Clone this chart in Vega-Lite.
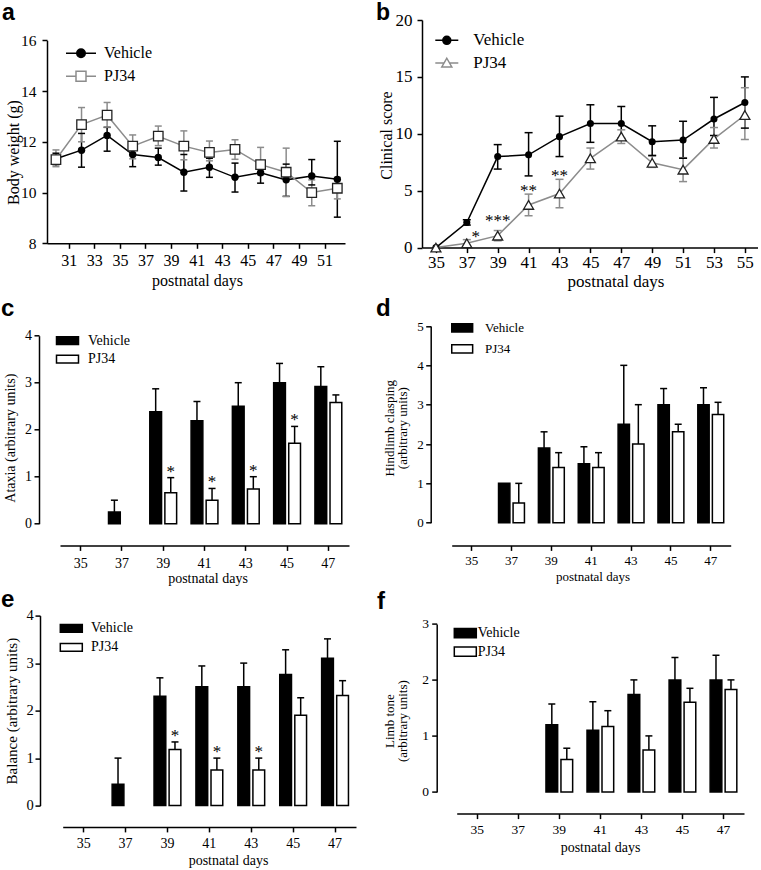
{
"$schema": "https://vega.github.io/schema/vega-lite/v6.json",
"background": "white",
"padding": {"left": 1, "top": 1, "right": 0, "bottom": 0},
"columns": 2,
"bounds": "flush",
"align": "each",
"spacing": {"row": 69.3, "column": 65},
"resolve": {"scale": {"color": "independent", "fill": "independent", "stroke": "independent", "shape": "independent", "size": "independent", "xOffset": "independent"}},
"config": {
  "view": {"stroke": null},
  "font": "Liberation Serif",
  "axis": {"grid": false, "domainColor": "#000", "domainWidth": 1.5, "tickColor": "#000", "tickWidth": 1.5, "tickSize": 5, "labelColor": "#000", "titleColor": "#000", "labelFont": "Liberation Serif", "titleFont": "Liberation Serif", "titleFontWeight": "normal", "labelFlush": false, "labelOverlap": false},
  "legend": {"labelFont": "Liberation Serif", "labelColor": "#000", "padding": 0},
  "title": {"font": "Liberation Sans", "fontSize": 24, "fontWeight": "bold", "anchor": "start", "frame": "group", "offset": 0, "color": "#000", "baseline": "alphabetic"}
},
"datasets": {
  "a": [
    {"day": 30, "group": "Vehicle", "mean": 11.33, "lo": 11.1, "hi": 11.55},
    {"day": 32, "group": "Vehicle", "mean": 11.67, "lo": 11.0, "hi": 12.33},
    {"day": 34, "group": "Vehicle", "mean": 12.25, "lo": 11.63, "hi": 12.57},
    {"day": 36, "group": "Vehicle", "mean": 11.5, "lo": 11.02, "hi": 11.8},
    {"day": 38, "group": "Vehicle", "mean": 11.38, "lo": 11.08, "hi": 11.75},
    {"day": 40, "group": "Vehicle", "mean": 10.8, "lo": 10.06, "hi": 11.5},
    {"day": 42, "group": "Vehicle", "mean": 11.0, "lo": 10.6, "hi": 11.35},
    {"day": 44, "group": "Vehicle", "mean": 10.6, "lo": 10.02, "hi": 11.16},
    {"day": 46, "group": "Vehicle", "mean": 10.78, "lo": 10.37, "hi": 11.0},
    {"day": 48, "group": "Vehicle", "mean": 10.5, "lo": 9.85, "hi": 11.12},
    {"day": 50, "group": "Vehicle", "mean": 10.65, "lo": 10.3, "hi": 11.3},
    {"day": 52, "group": "Vehicle", "mean": 10.52, "lo": 9.03, "hi": 12.02},
    {"day": 30, "group": "PJ34", "mean": 11.3, "lo": 11.02, "hi": 11.68},
    {"day": 32, "group": "PJ34", "mean": 12.68, "lo": 12.0, "hi": 13.35},
    {"day": 34, "group": "PJ34", "mean": 13.05, "lo": 12.58, "hi": 13.55},
    {"day": 36, "group": "PJ34", "mean": 11.83, "lo": 11.33, "hi": 12.27},
    {"day": 38, "group": "PJ34", "mean": 12.22, "lo": 11.85, "hi": 12.62},
    {"day": 40, "group": "PJ34", "mean": 11.83, "lo": 11.29, "hi": 12.43},
    {"day": 42, "group": "PJ34", "mean": 11.58, "lo": 11.25, "hi": 12.03},
    {"day": 44, "group": "PJ34", "mean": 11.7, "lo": 11.31, "hi": 12.08},
    {"day": 46, "group": "PJ34", "mean": 11.1, "lo": 10.7, "hi": 11.78},
    {"day": 48, "group": "PJ34", "mean": 10.8, "lo": 9.85, "hi": 11.75},
    {"day": 50, "group": "PJ34", "mean": 10.0, "lo": 9.48, "hi": 10.5},
    {"day": 52, "group": "PJ34", "mean": 10.17, "lo": 9.75, "hi": 10.6}
  ],
  "b": [
    {"day": 35, "group": "Vehicle", "mean": 0},
    {"day": 37, "group": "Vehicle", "mean": 2.2, "lo": 1.98, "hi": 2.45},
    {"day": 39, "group": "Vehicle", "mean": 8.0, "lo": 6.9, "hi": 9.05},
    {"day": 41, "group": "Vehicle", "mean": 8.15, "lo": 6.3, "hi": 10.1},
    {"day": 43, "group": "Vehicle", "mean": 9.75, "lo": 8.0, "hi": 11.55},
    {"day": 45, "group": "Vehicle", "mean": 10.9, "lo": 9.25, "hi": 12.55},
    {"day": 47, "group": "Vehicle", "mean": 10.9, "lo": 9.6, "hi": 12.4},
    {"day": 49, "group": "Vehicle", "mean": 9.3, "lo": 8.1, "hi": 10.7},
    {"day": 51, "group": "Vehicle", "mean": 9.45, "lo": 7.85, "hi": 11.1},
    {"day": 53, "group": "Vehicle", "mean": 11.3, "lo": 9.85, "hi": 13.2},
    {"day": 55, "group": "Vehicle", "mean": 12.75, "lo": 10.5, "hi": 15.0},
    {"day": 35, "group": "PJ34", "mean": 0},
    {"day": 37, "group": "PJ34", "mean": 0.38, "lo": 0.1, "hi": 0.7, "sig": "*"},
    {"day": 39, "group": "PJ34", "mean": 1.05, "lo": 0.6, "hi": 1.5, "sig": "***"},
    {"day": 41, "group": "PJ34", "mean": 3.75, "lo": 2.8, "hi": 4.7, "sig": "**"},
    {"day": 43, "group": "PJ34", "mean": 4.75, "lo": 3.5, "hi": 6.0, "sig": "**"},
    {"day": 45, "group": "PJ34", "mean": 7.85, "lo": 6.9, "hi": 8.75},
    {"day": 47, "group": "PJ34", "mean": 9.75, "lo": 9.15, "hi": 10.35},
    {"day": 49, "group": "PJ34", "mean": 7.45, "lo": 7.05, "hi": 8.05},
    {"day": 51, "group": "PJ34", "mean": 6.85, "lo": 5.8, "hi": 7.9},
    {"day": 53, "group": "PJ34", "mean": 9.55, "lo": 8.75, "hi": 10.55},
    {"day": 55, "group": "PJ34", "mean": 11.65, "lo": 9.5, "hi": 14.05}
  ],
  "c": [
    {"day": 37, "group": "Vehicle", "mean": 0.25, "hi": 0.5},
    {"day": 39, "group": "Vehicle", "mean": 2.38, "hi": 2.87},
    {"day": 39, "group": "PJ34", "mean": 0.66, "hi": 0.98, "sig": "*"},
    {"day": 41, "group": "Vehicle", "mean": 2.19, "hi": 2.6},
    {"day": 41, "group": "PJ34", "mean": 0.5, "hi": 0.75, "sig": "*"},
    {"day": 43, "group": "Vehicle", "mean": 2.5, "hi": 3.0},
    {"day": 43, "group": "PJ34", "mean": 0.74, "hi": 1.0, "sig": "*"},
    {"day": 45, "group": "Vehicle", "mean": 3.0, "hi": 3.41},
    {"day": 45, "group": "PJ34", "mean": 1.71, "hi": 2.07, "sig": "*"},
    {"day": 47, "group": "Vehicle", "mean": 2.92, "hi": 3.34},
    {"day": 47, "group": "PJ34", "mean": 2.58, "hi": 2.74}
  ],
  "d": [
    {"day": 37, "group": "Vehicle", "mean": 1.0},
    {"day": 37, "group": "PJ34", "mean": 0.5, "hi": 1.0},
    {"day": 39, "group": "Vehicle", "mean": 1.9, "hi": 2.31},
    {"day": 39, "group": "PJ34", "mean": 1.4, "hi": 1.78},
    {"day": 41, "group": "Vehicle", "mean": 1.5, "hi": 1.93},
    {"day": 41, "group": "PJ34", "mean": 1.4, "hi": 1.78},
    {"day": 43, "group": "Vehicle", "mean": 2.5, "hi": 4.0},
    {"day": 43, "group": "PJ34", "mean": 2.0, "hi": 3.0},
    {"day": 45, "group": "Vehicle", "mean": 3.0, "hi": 3.41},
    {"day": 45, "group": "PJ34", "mean": 2.31, "hi": 2.5},
    {"day": 47, "group": "Vehicle", "mean": 3.0, "hi": 3.43},
    {"day": 47, "group": "PJ34", "mean": 2.75, "hi": 3.06}
  ],
  "e": [
    {"day": 37, "group": "Vehicle", "mean": 0.45, "hi": 1.0},
    {"day": 39, "group": "Vehicle", "mean": 2.3, "hi": 2.69},
    {"day": 39, "group": "PJ34", "mean": 1.18, "hi": 1.34, "sig": "*"},
    {"day": 41, "group": "Vehicle", "mean": 2.5, "hi": 2.94},
    {"day": 41, "group": "PJ34", "mean": 0.75, "hi": 1.0, "sig": "*"},
    {"day": 43, "group": "Vehicle", "mean": 2.5, "hi": 3.0},
    {"day": 43, "group": "PJ34", "mean": 0.75, "hi": 1.0, "sig": "*"},
    {"day": 45, "group": "Vehicle", "mean": 2.76, "hi": 3.28},
    {"day": 45, "group": "PJ34", "mean": 1.9, "hi": 2.27},
    {"day": 47, "group": "Vehicle", "mean": 3.1, "hi": 3.51},
    {"day": 47, "group": "PJ34", "mean": 2.32, "hi": 2.63}
  ],
  "f": [
    {"day": 39, "group": "Vehicle", "mean": 1.2, "hi": 1.57},
    {"day": 39, "group": "PJ34", "mean": 0.58, "hi": 0.78},
    {"day": 41, "group": "Vehicle", "mean": 1.1, "hi": 1.61},
    {"day": 41, "group": "PJ34", "mean": 1.17, "hi": 1.45},
    {"day": 43, "group": "Vehicle", "mean": 1.74, "hi": 2.0},
    {"day": 43, "group": "PJ34", "mean": 0.75, "hi": 1.0},
    {"day": 45, "group": "Vehicle", "mean": 2.0, "hi": 2.4},
    {"day": 45, "group": "PJ34", "mean": 1.6, "hi": 1.85},
    {"day": 47, "group": "Vehicle", "mean": 2.0, "hi": 2.44},
    {"day": 47, "group": "PJ34", "mean": 1.83, "hi": 2.0}
  ]
},
"concat": [
  {
    "width": 310, "height": 223.3,
    "title": {"text": "a", "dx": -45, "dy": 9, "fontSize": 23},
    "data": {"name": "a"},
    "encoding": {
      "x": {"field": "day", "type": "quantitative",
        "scale": {"domain": [29.3, 52.6], "range": [0, 298], "nice": false, "zero": false},
        "axis": {"values": [31, 33, 35, 37, 39, 41, 43, 45, 47, 49, 51], "title": "postnatal days", "labelFontSize": 16, "titleFontSize": 16, "labelPadding": 4, "titleX": 150, "titleY": 37, "titleBaseline": "middle", "titleAlign": "center"}}
    },
    "layer": [
      {"mark": {"type": "point", "filled": true, "opacity": 1},
       "transform": [{"filter": "false"}],
       "encoding": {
         "y": {"field": "mean", "type": "quantitative", "title": "Body weight (g)"},
         "fill": {"field": "group", "type": "nominal", "scale": {"domain": ["Vehicle", "PJ34"], "range": ["#000000", "#ffffff"]},
           "legend": {"orient": "none", "legendX": 26, "legendY": 25.3, "title": null, "labelFont": "Liberation Serif", "labelFontSize": 16, "symbolSize": 100, "rowPadding": 7, "labelOffset": 15, "symbolStrokeWidth": 1.5}},
         "stroke": {"field": "group", "type": "nominal", "scale": {"domain": ["Vehicle", "PJ34"], "range": ["#000000", "#8c8c8c"]}},
         "shape": {"field": "group", "type": "nominal", "scale": {"domain": ["Vehicle", "PJ34"], "range": ["M-3,0H3M-0.85,0A0.85,0.85 0 1,0 0.85,0A0.85,0.85 0 1,0 -0.85,0Z", "M-3,0H-1M1,0H3M-1,-1H1V1H-1Z"]}}
       }},
      {"mark": {"type": "rule", "strokeWidth": 1.5},
       "encoding": {
         "y": {"field": "lo", "type": "quantitative", "scale": {"domain": [8, 16], "range": [223.3, 20.3], "nice": false, "zero": false},
           "axis": {"values": [8, 10, 12, 14, 16], "title": "Body weight (g)", "labelFontSize": 15.5, "titleFontSize": 16, "labelPadding": 6, "titleX": -34, "titleY": 132, "titleAngle": -90, "titleBaseline": "middle", "titleAlign": "center"}},
         "y2": {"field": "hi"},
         "color": {"field": "group", "type": "nominal", "sort": ["Vehicle", "PJ34"], "scale": {"range": ["#000000", "#8c8c8c"]}, "legend": null}}},
      {"mark": {"type": "tick", "orient": "horizontal", "size": 7, "thickness": 1.5, "opacity": 1},
       "encoding": {"y": {"field": "hi", "type": "quantitative", "title": "Body weight (g)"},
         "color": {"field": "group", "type": "nominal", "sort": ["Vehicle", "PJ34"], "scale": {"range": ["#000000", "#8c8c8c"]}, "legend": null}}},
      {"mark": {"type": "tick", "orient": "horizontal", "size": 7, "thickness": 1.5, "opacity": 1},
       "encoding": {"y": {"field": "lo", "type": "quantitative", "title": "Body weight (g)"},
         "color": {"field": "group", "type": "nominal", "sort": ["Vehicle", "PJ34"], "scale": {"range": ["#000000", "#8c8c8c"]}, "legend": null}}},
      {"mark": {"type": "line", "strokeWidth": 1.5},
       "encoding": {"y": {"field": "mean", "type": "quantitative", "title": "Body weight (g)"},
         "color": {"field": "group", "type": "nominal", "sort": ["Vehicle", "PJ34"], "scale": {"range": ["#000000", "#8c8c8c"]}, "legend": null}}},
      {"mark": {"type": "point", "shape": "circle", "filled": true, "color": "#000000", "size": 55, "opacity": 1},
       "transform": [{"filter": "datum.group === 'Vehicle'"}],
       "encoding": {"y": {"field": "mean", "type": "quantitative", "title": "Body weight (g)"}}},
      {"mark": {"type": "point", "shape": "square", "filled": true, "fill": "#ffffff", "stroke": "#222222", "strokeWidth": 1.3, "size": 90, "opacity": 1},
       "transform": [{"filter": "datum.group === 'PJ34'"}],
       "encoding": {"y": {"field": "mean", "type": "quantitative", "title": "Body weight (g)"}}}
    ]
  },
  {
    "width": 336, "height": 227.6,
    "title": {"text": "b", "dx": -46, "dy": 17.5, "fontSize": 23},
    "data": {"name": "b"},
    "encoding": {
      "x": {"field": "day", "type": "quantitative",
        "scale": {"domain": [34.1, 55.85], "range": [0, 336], "nice": false, "zero": false},
        "axis": {"values": [35, 37, 39, 41, 43, 45, 47, 49, 51, 53, 55], "title": "postnatal days", "labelFontSize": 17, "titleFontSize": 17, "labelPadding": 1.5, "titleX": 193.5, "titleY": 33.7, "titleBaseline": "middle", "titleAlign": "center"}}
    },
    "layer": [
      {"mark": {"type": "point", "filled": true, "opacity": 1},
       "transform": [{"filter": "false"}],
       "encoding": {
         "y": {"field": "mean", "type": "quantitative", "title": "Clinical score"},
         "fill": {"field": "group", "type": "nominal", "scale": {"domain": ["Vehicle", "PJ34"], "range": ["#000000", "#ffffff"]},
           "legend": {"orient": "none", "legendX": 16.3, "legendY": 11.8, "title": null, "labelFont": "Liberation Serif", "labelFontSize": 17, "symbolSize": 100, "rowPadding": 4.7, "labelOffset": 18, "symbolStrokeWidth": 1.5}},
         "stroke": {"field": "group", "type": "nominal", "scale": {"domain": ["Vehicle", "PJ34"], "range": ["#000000", "#8c8c8c"]}},
         "shape": {"field": "group", "type": "nominal", "scale": {"domain": ["Vehicle", "PJ34"], "range": ["M-2.3,0H2.3M-0.8,0A0.8,0.8 0 1,0 0.8,0A0.8,0.8 0 1,0 -0.8,0Z", "M-2.3,0H-0.55M0.55,0H2.3M0,-0.95L1,0.8H-1Z"]}}
       }},
      {"mark": {"type": "rule", "strokeWidth": 1.5},
       "encoding": {
         "y": {"field": "lo", "type": "quantitative", "scale": {"domain": [0, 20], "range": [227.6, 0], "nice": false, "zero": false},
           "axis": {"values": [0, 5, 10, 15, 20], "title": "Clinical score", "labelFontSize": 17, "titleFontSize": 16, "labelPadding": 5, "titleX": -36, "titleY": 115, "titleAngle": -90, "titleBaseline": "middle", "titleAlign": "center"}},
         "y2": {"field": "hi"},
         "color": {"field": "group", "type": "nominal", "sort": ["Vehicle", "PJ34"], "scale": {"range": ["#000000", "#8c8c8c"]}, "legend": null}}},
      {"mark": {"type": "tick", "orient": "horizontal", "size": 8, "thickness": 1.5, "opacity": 1},
       "encoding": {"y": {"field": "hi", "type": "quantitative", "title": "Clinical score"},
         "color": {"field": "group", "type": "nominal", "sort": ["Vehicle", "PJ34"], "scale": {"range": ["#000000", "#8c8c8c"]}, "legend": null}}},
      {"mark": {"type": "tick", "orient": "horizontal", "size": 8, "thickness": 1.5, "opacity": 1},
       "encoding": {"y": {"field": "lo", "type": "quantitative", "title": "Clinical score"},
         "color": {"field": "group", "type": "nominal", "sort": ["Vehicle", "PJ34"], "scale": {"range": ["#000000", "#8c8c8c"]}, "legend": null}}},
      {"mark": {"type": "line", "strokeWidth": 1.5},
       "encoding": {"y": {"field": "mean", "type": "quantitative", "title": "Clinical score"},
         "color": {"field": "group", "type": "nominal", "sort": ["Vehicle", "PJ34"], "scale": {"range": ["#000000", "#8c8c8c"]}, "legend": null}}},
      {"mark": {"type": "point", "shape": "circle", "filled": true, "color": "#000000", "size": 50, "opacity": 1},
       "transform": [{"filter": "datum.group === 'Vehicle'"}],
       "encoding": {"y": {"field": "mean", "type": "quantitative", "title": "Clinical score"}}},
      {"mark": {"type": "point", "shape": "triangle-up", "filled": true, "fill": "#ffffff", "stroke": "#222222", "strokeWidth": 1.3, "size": 100, "opacity": 1},
       "transform": [{"filter": "datum.group === 'PJ34'"}],
       "encoding": {"y": {"field": "mean", "type": "quantitative", "title": "Clinical score"}}},
      {"mark": {"type": "text", "font": "Liberation Serif", "fontSize": 17, "baseline": "alphabetic", "dy": 2, "color": "#000000"},
       "transform": [{"filter": "datum.sig && datum.day != 37 && datum.day != 39"}],
       "encoding": {"y": {"field": "hi", "type": "quantitative", "title": "Clinical score"}, "text": {"field": "sig"}}},
      {"mark": {"type": "text", "font": "Liberation Serif", "fontSize": 17, "baseline": "alphabetic", "dy": -5, "color": "#000000"},
       "transform": [{"filter": "datum.sig && datum.day == 39"}],
       "encoding": {"y": {"field": "hi", "type": "quantitative", "title": "Clinical score"}, "text": {"field": "sig"}}},
      {"mark": {"type": "text", "font": "Liberation Serif", "fontSize": 17, "baseline": "alphabetic", "dy": 2, "dx": 9, "color": "#000000"},
       "transform": [{"filter": "datum.sig && datum.day == 37"}],
       "encoding": {"y": {"field": "hi", "type": "quantitative", "title": "Clinical score"}, "text": {"field": "sig"}}}
    ]
  },
  {
    "width": 310, "height": 228.1,
    "title": {"text": "c", "dx": -46, "dy": 8},
    "data": {"name": "c"},
    "encoding": {
      "x": {"field": "day", "type": "ordinal", "scale": {"domain": [35, 37, 39, 41, 43, 45, 47], "range": [13, 302], "paddingInner": 0.35, "paddingOuter": 0.175},
        "axis": {"title": "postnatal days", "labelAngle": 0, "labelFontSize": 14, "titleFontSize": 14, "labelPadding": 6, "titleX": 160.5, "titleY": 33.3, "titleBaseline": "middle", "titleAlign": "center"}},
      "xOffset": {"field": "group", "type": "nominal", "scale": {"domain": ["Vehicle", "PJ34"], "paddingInner": 0.22, "paddingOuter": 0}}
    },
    "layer": [
      {"mark": {"type": "bar", "stroke": "#000000", "strokeWidth": 1.5},
       "encoding": {
         "y": {"field": "mean", "type": "quantitative", "scale": {"domain": [0, 4], "range": [206.4, 18.4], "nice": false},
           "axis": {"values": [0, 1, 2, 3, 4], "format": "d", "title": "Ataxia (arbitrary units)", "offset": 8, "labelFontSize": 14, "titleFontSize": 14, "labelPadding": 2.5, "titleX": -29, "titleY": 120.4, "titleAngle": -90, "titleBaseline": "middle", "titleAlign": "center"}},
         "fill": {"field": "group", "type": "nominal", "scale": {"domain": ["Vehicle", "PJ34"], "range": ["#000000", "#ffffff"]},
           "legend": {"orient": "none", "legendX": 13.5, "legendY": 16.4, "title": null, "labelFont": "Liberation Serif", "labelFontSize": 14, "symbolType": "M-2,-0.7H2V0.7H-2Z", "symbolSize": 121, "rowPadding": 4.5, "labelOffset": 13.5, "symbolStrokeWidth": 1.5, "symbolStrokeColor": "#000000"}}}},
      {"mark": {"type": "rule", "strokeWidth": 1.5, "color": "#000000"},
       "transform": [{"filter": "datum.hi != null"}],
       "encoding": {"y": {"field": "mean", "type": "quantitative", "title": "Ataxia (arbitrary units)"}, "y2": {"field": "hi"}}},
      {"mark": {"type": "tick", "orient": "horizontal", "size": 7, "thickness": 1.5, "color": "#000000", "opacity": 1},
       "transform": [{"filter": "datum.hi != null"}],
       "encoding": {"y": {"field": "hi", "type": "quantitative", "title": "Ataxia (arbitrary units)"}}},
      {"mark": {"type": "text", "font": "Liberation Serif", "fontSize": 17, "baseline": "alphabetic", "dy": -1, "color": "#000000"},
       "transform": [{"filter": "datum.sig"}],
       "encoding": {"y": {"field": "hi", "type": "quantitative", "title": "Ataxia (arbitrary units)"}, "text": {"field": "sig"}}}
    ]
  },
  {
    "width": 336, "height": 228.1,
    "title": {"text": "d", "dx": -46, "dy": 7.4},
    "data": {"name": "d"},
    "encoding": {
      "x": {"field": "day", "type": "ordinal", "scale": {"domain": [35, 37, 39, 41, 43, 45, 47], "range": [29.7, 308.7], "paddingInner": 0.35, "paddingOuter": 0.175},
        "axis": {"title": "postnatal days", "labelAngle": 0, "labelFontSize": 13, "titleFontSize": 13, "labelPadding": 4.3, "titleX": 170.5, "titleY": 31.3, "titleBaseline": "middle", "titleAlign": "center"}},
      "xOffset": {"field": "group", "type": "nominal", "scale": {"domain": ["Vehicle", "PJ34"], "paddingInner": 0.22, "paddingOuter": 0}}
    },
    "layer": [
      {"mark": {"type": "bar", "stroke": "#000000", "strokeWidth": 1.5},
       "encoding": {
         "y": {"field": "mean", "type": "quantitative", "scale": {"domain": [0, 5], "range": [205.4, 8.7], "nice": false},
           "axis": {"values": [0, 1, 2, 3, 4, 5], "format": "d", "title": ["Hindlimb clasping", "(arbitrary units)"], "offset": -8.7, "labelFontSize": 13, "titleFontSize": 13, "titleLineHeight": 13, "labelPadding": 2.4, "titleX": -41.7, "titleY": 110.4, "titleAngle": -90, "titleBaseline": "middle", "titleAlign": "center"}},
         "fill": {"field": "group", "type": "nominal", "scale": {"domain": ["Vehicle", "PJ34"], "range": ["#000000", "#ffffff"]},
           "legend": {"orient": "none", "legendX": 33.7, "legendY": 4.1, "title": null, "labelFont": "Liberation Serif", "labelFontSize": 13, "symbolType": "M-1.9,-0.75H1.9V0.75H-1.9Z", "symbolSize": 121, "rowPadding": 6, "labelOffset": 16.3, "symbolStrokeWidth": 1.5, "symbolStrokeColor": "#000000"}}}},
      {"mark": {"type": "rule", "strokeWidth": 1.5, "color": "#000000"},
       "transform": [{"filter": "datum.hi != null"}],
       "encoding": {"y": {"field": "mean", "type": "quantitative", "title": ["Hindlimb clasping", "(arbitrary units)"]}, "y2": {"field": "hi"}}},
      {"mark": {"type": "tick", "orient": "horizontal", "size": 7, "thickness": 1.5, "color": "#000000", "opacity": 1},
       "transform": [{"filter": "datum.hi != null"}],
       "encoding": {"y": {"field": "hi", "type": "quantitative", "title": ["Hindlimb clasping", "(arbitrary units)"]}}}
    ]
  },
  {
    "width": 310, "height": 211.3,
    "title": {"text": "e", "dx": -46, "dy": 8.25},
    "data": {"name": "e"},
    "encoding": {
      "x": {"field": "day", "type": "ordinal", "scale": {"domain": [35, 37, 39, 41, 43, 45, 47], "range": [15.7, 309], "paddingInner": 0.36, "paddingOuter": 0.18},
        "axis": {"title": "postnatal days", "labelAngle": 0, "labelFontSize": 14, "titleFontSize": 14, "labelPadding": 5, "titleX": 181, "titleY": 33.5, "titleBaseline": "middle", "titleAlign": "center"}},
      "xOffset": {"field": "group", "type": "nominal", "scale": {"domain": ["Vehicle", "PJ34"], "paddingInner": 0.22, "paddingOuter": 0}}
    },
    "layer": [
      {"mark": {"type": "bar", "stroke": "#000000", "strokeWidth": 1.5},
       "encoding": {
         "y": {"field": "mean", "type": "quantitative", "scale": {"domain": [0, 4], "range": [190, 0], "nice": false},
           "axis": {"values": [0, 1, 2, 3, 4], "format": "d", "title": "Balance (arbitrary units)", "offset": 7, "labelFontSize": 14.5, "titleFontSize": 15, "labelPadding": 1.7, "titleX": -29, "titleY": 95, "titleAngle": -90, "titleBaseline": "middle", "titleAlign": "center"}},
         "fill": {"field": "group", "type": "nominal", "scale": {"domain": ["Vehicle", "PJ34"], "range": ["#000000", "#ffffff"]},
           "legend": {"orient": "none", "legendX": 17.3, "legendY": 5.8, "title": null, "labelFont": "Liberation Serif", "labelFontSize": 14, "symbolType": "M-2,-0.7H2V0.7H-2Z", "symbolSize": 121, "rowPadding": 5, "labelOffset": 12.7, "symbolStrokeWidth": 1.5, "symbolStrokeColor": "#000000"}}}},
      {"mark": {"type": "rule", "strokeWidth": 1.5, "color": "#000000"},
       "transform": [{"filter": "datum.hi != null"}],
       "encoding": {"y": {"field": "mean", "type": "quantitative", "title": "Balance (arbitrary units)"}, "y2": {"field": "hi"}}},
      {"mark": {"type": "tick", "orient": "horizontal", "size": 7, "thickness": 1.5, "color": "#000000", "opacity": 1},
       "transform": [{"filter": "datum.hi != null"}],
       "encoding": {"y": {"field": "hi", "type": "quantitative", "title": "Balance (arbitrary units)"}}},
      {"mark": {"type": "text", "font": "Liberation Serif", "fontSize": 17, "baseline": "alphabetic", "dy": -1, "color": "#000000"},
       "transform": [{"filter": "datum.sig"}],
       "encoding": {"y": {"field": "hi", "type": "quantitative", "title": "Balance (arbitrary units)"}, "text": {"field": "sig"}}}
    ]
  },
  {
    "width": 336, "height": 198,
    "title": {"text": "f", "dx": -45, "dy": 2},
    "data": {"name": "f"},
    "encoding": {
      "x": {"field": "day", "type": "ordinal", "scale": {"domain": [35, 37, 39, 41, 43, 45, 47], "range": [34.7, 322], "paddingInner": 0.35, "paddingOuter": 0.175},
        "axis": {"title": "postnatal days", "labelAngle": 0, "labelFontSize": 13.5, "titleFontSize": 14, "labelPadding": 4, "titleX": 178, "titleY": 34.3, "titleBaseline": "middle", "titleAlign": "center"}},
      "xOffset": {"field": "group", "type": "nominal", "scale": {"domain": ["Vehicle", "PJ34"], "paddingInner": 0.22, "paddingOuter": 0}}
    },
    "layer": [
      {"mark": {"type": "bar", "stroke": "#000000", "strokeWidth": 1.5},
       "encoding": {
         "y": {"field": "mean", "type": "quantitative", "scale": {"domain": [0, 3], "range": [176.3, 8.3], "nice": false},
           "axis": {"values": [0, 1, 2, 3], "format": "d", "title": ["Limb tone", "(arbitrary units)"], "offset": -14.7, "labelFontSize": 13.5, "titleFontSize": 13, "titleLineHeight": 13, "labelPadding": 3.3, "titleX": -47.7, "titleY": 105, "titleAngle": -90, "titleBaseline": "middle", "titleAlign": "center"}},
         "fill": {"field": "group", "type": "nominal", "scale": {"domain": ["Vehicle", "PJ34"], "range": ["#000000", "#ffffff"]},
           "legend": {"orient": "none", "legendX": 36.3, "legendY": 10.5, "title": null, "labelFont": "Liberation Serif", "labelFontSize": 14, "symbolType": "M-2,-0.85H2V0.85H-2Z", "symbolSize": 121, "rowPadding": 2.5, "labelOffset": 5.4, "symbolStrokeWidth": 1.5, "symbolStrokeColor": "#000000"}}}},
      {"mark": {"type": "rule", "strokeWidth": 1.5, "color": "#000000"},
       "transform": [{"filter": "datum.hi != null"}],
       "encoding": {"y": {"field": "mean", "type": "quantitative", "title": ["Limb tone", "(arbitrary units)"]}, "y2": {"field": "hi"}}},
      {"mark": {"type": "tick", "orient": "horizontal", "size": 7, "thickness": 1.5, "color": "#000000", "opacity": 1},
       "transform": [{"filter": "datum.hi != null"}],
       "encoding": {"y": {"field": "hi", "type": "quantitative", "title": ["Limb tone", "(arbitrary units)"]}}}
    ]
  }
]
}
